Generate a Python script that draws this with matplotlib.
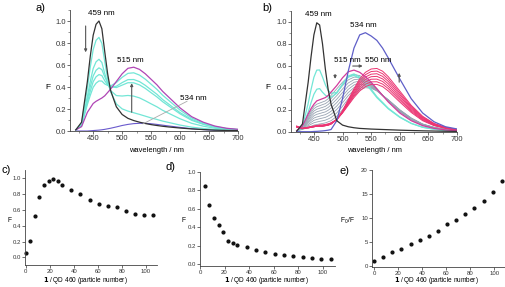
import numpy as np
import matplotlib
matplotlib.use('Agg')
import matplotlib.pyplot as plt
from matplotlib.ticker import MultipleLocator

plt.rcParams['font.family'] = ['Liberation Sans', 'DejaVu Sans']

# wavelength grid (nm) shared by every spectrum
wl = [420, 430, 440, 445, 450, 455, 460, 465, 470, 475, 480, 490, 500, 510, 520,
      530, 540, 550, 560, 570, 580, 600, 620, 640, 660, 680, 700]

# ---- panel a) spectra
a_black = [0.01, 0.08, 0.45, 0.68, 0.87, 0.97, 1.00, 0.93, 0.72, 0.52, 0.37, 0.22, 0.15, 0.115, 0.095,
           0.08, 0.068, 0.058, 0.05, 0.043, 0.037, 0.027, 0.019, 0.013, 0.008, 0.005, 0.003]
a_cyan = [
    [0.01, 0.071, 0.389, 0.581, 0.74, 0.825, 0.851, 0.797, 0.63, 0.474, 0.357, 0.247, 0.201, 0.181, 0.166,
     0.151, 0.135, 0.119, 0.105, 0.09, 0.078, 0.054, 0.035, 0.023, 0.014, 0.008, 0.005],
    [0.01, 0.06, 0.313, 0.451, 0.568, 0.629, 0.652, 0.623, 0.522, 0.432, 0.368, 0.322, 0.318, 0.323, 0.317,
     0.301, 0.275, 0.247, 0.22, 0.188, 0.162, 0.111, 0.07, 0.044, 0.025, 0.014, 0.009],
    [0.011, 0.058, 0.287, 0.402, 0.50, 0.552, 0.574, 0.558, 0.493, 0.439, 0.403, 0.395, 0.417, 0.439, 0.438,
     0.419, 0.387, 0.348, 0.31, 0.266, 0.229, 0.156, 0.097, 0.06, 0.034, 0.019, 0.011],
    [0.011, 0.054, 0.263, 0.361, 0.448, 0.493, 0.513, 0.504, 0.457, 0.42, 0.398, 0.407, 0.44, 0.467, 0.468,
     0.449, 0.415, 0.374, 0.334, 0.286, 0.246, 0.167, 0.105, 0.065, 0.036, 0.02, 0.012],
    [0.011, 0.051, 0.241, 0.324, 0.397, 0.435, 0.455, 0.454, 0.428, 0.414, 0.409, 0.441, 0.488, 0.524, 0.529,
     0.508, 0.471, 0.425, 0.379, 0.325, 0.28, 0.19, 0.118, 0.073, 0.041, 0.023, 0.014],
]
a_magenta = [0.01, 0.04, 0.17, 0.21, 0.25, 0.27, 0.285, 0.30, 0.32, 0.35, 0.38, 0.45, 0.52, 0.57, 0.58,
             0.56, 0.52, 0.47, 0.42, 0.36, 0.31, 0.21, 0.13, 0.08, 0.045, 0.025, 0.015]
a_purple = [0.0, 0.0, 0.0, 0.002, 0.004, 0.006, 0.008, 0.011, 0.015, 0.02, 0.025, 0.037, 0.05, 0.06, 0.067,
            0.07, 0.07, 0.066, 0.06, 0.053, 0.046, 0.033, 0.021, 0.013, 0.007, 0.004, 0.002]

# ---- panel b) spectra
b_black = [0.005, 0.07, 0.45, 0.68, 0.88, 0.99, 0.97, 0.80, 0.57, 0.38, 0.25, 0.10, 0.06, 0.045, 0.036,
           0.03, 0.027, 0.024, 0.022, 0.02, 0.018, 0.014, 0.011, 0.008, 0.006, 0.004, 0.003]
b_cyan = [
    [0.01, 0.047, 0.257, 0.383, 0.495, 0.56, 0.561, 0.498, 0.427, 0.375, 0.35, 0.356, 0.428, 0.496, 0.512,
     0.484, 0.437, 0.376, 0.31, 0.259, 0.208, 0.131, 0.075, 0.04, 0.023, 0.012, 0.006],
    [0.005, 0.036, 0.178, 0.263, 0.34, 0.386, 0.392, 0.359, 0.332, 0.314, 0.314, 0.35, 0.433, 0.507, 0.525,
     0.497, 0.45, 0.387, 0.318, 0.266, 0.213, 0.134, 0.076, 0.041, 0.023, 0.011, 0.006],
]
b_magenta = [0.01, 0.05, 0.16, 0.21, 0.25, 0.28, 0.29, 0.30, 0.31, 0.33, 0.36, 0.42, 0.49, 0.545, 0.56,
             0.54, 0.50, 0.45, 0.39, 0.33, 0.27, 0.17, 0.10, 0.055, 0.03, 0.016, 0.008]
b_gray = [
    [0.01, 0.04, 0.14, 0.19, 0.23, 0.25, 0.26, 0.27, 0.28, 0.30, 0.33, 0.39, 0.45, 0.50, 0.52,
     0.51, 0.48, 0.44, 0.39, 0.33, 0.28, 0.18, 0.11, 0.06, 0.033, 0.018, 0.01],
    [0.01, 0.038, 0.128, 0.173, 0.209, 0.227, 0.236, 0.246, 0.255, 0.274, 0.301, 0.359, 0.419, 0.471, 0.496,
     0.494, 0.47, 0.434, 0.388, 0.33, 0.281, 0.183, 0.112, 0.061, 0.034, 0.018, 0.01],
    [0.01, 0.035, 0.115, 0.155, 0.188, 0.204, 0.213, 0.221, 0.23, 0.248, 0.273, 0.328, 0.388, 0.443, 0.473,
     0.478, 0.46, 0.429, 0.385, 0.33, 0.283, 0.185, 0.114, 0.063, 0.035, 0.019, 0.01],
    [0.01, 0.033, 0.103, 0.138, 0.166, 0.181, 0.189, 0.197, 0.205, 0.221, 0.244, 0.296, 0.356, 0.414, 0.449,
     0.461, 0.45, 0.423, 0.383, 0.33, 0.284, 0.188, 0.116, 0.064, 0.036, 0.019, 0.01],
    [0.01, 0.03, 0.09, 0.12, 0.145, 0.158, 0.165, 0.173, 0.18, 0.195, 0.215, 0.265, 0.325, 0.385, 0.425,
     0.445, 0.44, 0.418, 0.38, 0.33, 0.285, 0.19, 0.118, 0.065, 0.037, 0.019, 0.01],
    [0.01, 0.028, 0.078, 0.103, 0.124, 0.134, 0.141, 0.148, 0.155, 0.169, 0.186, 0.234, 0.294, 0.356, 0.401,
     0.429, 0.43, 0.412, 0.378, 0.33, 0.286, 0.193, 0.119, 0.066, 0.037, 0.019, 0.01],
    [0.01, 0.025, 0.065, 0.085, 0.103, 0.111, 0.118, 0.124, 0.13, 0.143, 0.158, 0.203, 0.263, 0.328, 0.378,
     0.413, 0.42, 0.406, 0.375, 0.33, 0.288, 0.195, 0.121, 0.068, 0.038, 0.02, 0.01],
    [0.01, 0.023, 0.053, 0.068, 0.081, 0.088, 0.094, 0.099, 0.105, 0.116, 0.129, 0.171, 0.231, 0.299, 0.354,
     0.396, 0.41, 0.401, 0.373, 0.33, 0.289, 0.198, 0.123, 0.069, 0.039, 0.02, 0.01],
    [0.01, 0.02, 0.04, 0.05, 0.06, 0.065, 0.07, 0.075, 0.08, 0.09, 0.10, 0.14, 0.20, 0.27, 0.33,
     0.38, 0.40, 0.395, 0.37, 0.33, 0.29, 0.20, 0.125, 0.07, 0.04, 0.02, 0.01],
]
b_red = [
    [0.04, 0.03, 0.04, 0.045, 0.05, 0.055, 0.06, 0.06, 0.065, 0.07, 0.08, 0.11, 0.17, 0.24, 0.31,
     0.37, 0.41, 0.43, 0.43, 0.41, 0.37, 0.27, 0.175, 0.10, 0.055, 0.03, 0.015],
    [0.04, 0.03, 0.04, 0.045, 0.05, 0.055, 0.06, 0.06, 0.065, 0.07, 0.08, 0.11, 0.173, 0.248, 0.323,
     0.388, 0.432, 0.453, 0.454, 0.433, 0.392, 0.287, 0.186, 0.107, 0.058, 0.032, 0.016],
    [0.045, 0.03, 0.04, 0.045, 0.05, 0.055, 0.055, 0.055, 0.06, 0.065, 0.075, 0.11, 0.177, 0.257, 0.337,
     0.407, 0.453, 0.477, 0.478, 0.457, 0.413, 0.303, 0.197, 0.113, 0.062, 0.033, 0.017],
    [0.045, 0.03, 0.035, 0.04, 0.045, 0.05, 0.055, 0.055, 0.06, 0.065, 0.075, 0.11, 0.18, 0.265, 0.35,
     0.425, 0.475, 0.50, 0.503, 0.48, 0.435, 0.32, 0.208, 0.12, 0.065, 0.035, 0.018],
    [0.05, 0.03, 0.035, 0.04, 0.045, 0.05, 0.05, 0.05, 0.055, 0.06, 0.07, 0.11, 0.183, 0.273, 0.363,
     0.443, 0.497, 0.523, 0.527, 0.503, 0.457, 0.337, 0.218, 0.127, 0.068, 0.037, 0.018],
    [0.05, 0.03, 0.035, 0.04, 0.045, 0.05, 0.05, 0.05, 0.055, 0.06, 0.07, 0.11, 0.187, 0.282, 0.377,
     0.462, 0.518, 0.547, 0.551, 0.527, 0.478, 0.353, 0.229, 0.133, 0.072, 0.038, 0.019],
    [0.05, 0.03, 0.035, 0.04, 0.045, 0.05, 0.05, 0.05, 0.055, 0.06, 0.07, 0.11, 0.19, 0.29, 0.39,
     0.48, 0.54, 0.57, 0.575, 0.55, 0.50, 0.37, 0.24, 0.14, 0.075, 0.04, 0.02],
]
b_purple = [0.0, 0.0, 0.0, 0.0, 0.002, 0.003, 0.005, 0.007, 0.01, 0.014, 0.02, 0.10, 0.30, 0.55, 0.76,
            0.88, 0.90, 0.87, 0.83, 0.76, 0.67, 0.48, 0.30, 0.17, 0.09, 0.045, 0.025]

# ---- panels c) d) e): titration points
c_x = [0, 3.8, 7.6, 11.4, 15.2, 19, 22.8, 26.6, 30.4, 38, 45.6, 53.2, 60.8, 68.4, 76, 83.6, 91.2, 98.8, 106.4]
c_y = [0.051, 0.207, 0.523, 0.768, 0.916, 0.966, 0.992, 0.966, 0.916, 0.852, 0.797, 0.722, 0.679, 0.646,
       0.633, 0.586, 0.549, 0.540, 0.536]
d_x = [3.8, 7.6, 11.4, 15.2, 19, 22.8, 26.6, 30.4, 38, 45.6, 53.2, 60.8, 68.4, 76, 83.6, 91.2, 98.8, 106.4]
d_y = [0.852, 0.639, 0.498, 0.422, 0.354, 0.253, 0.227, 0.209, 0.184, 0.159, 0.130, 0.112, 0.097, 0.087,
       0.076, 0.069, 0.061, 0.054]
e_x = [0, 7.6, 15.2, 22.8, 30.4, 38, 45.6, 53.2, 60.8, 68.4, 76, 83.6, 91.2, 98.8, 106.4]
e_y = [1.0, 1.8, 2.8, 3.5, 4.5, 5.35, 6.2, 7.3, 8.75, 9.5, 10.8, 12.1, 13.6, 15.5, 17.7]

W, H = 505, 287
fig = plt.figure(figsize=(W / 100, H / 100), dpi=100)


def box(l, t, r, b):
    # pixel box -> figure fraction
    return [l / W, 1 - b / H, (r - l) / W, (b - t) / H]


def style(ax, size):
    for s in ['top', 'right']:
        ax.spines[s].set_visible(False)
    for s in ['left', 'bottom']:
        ax.spines[s].set_linewidth(0.6)
        ax.spines[s].set_color('#444444')
    ax.tick_params(labelsize=size, length=2, width=0.5, pad=1, colors='#333333')
    ax.tick_params(which='minor', length=1.2, width=0.4, colors='#444444')


# ---------------- a)
ax = fig.add_axes(box(70, 10, 238, 131))
ax.plot(wl, a_purple, color='#6a5acd', lw=0.8)
for y in a_cyan:
    ax.plot(wl, y, color='#72e6d6', lw=0.9)
ax.plot(wl, a_magenta, color='#b045b5', lw=0.9)
ax.plot(wl, a_black, color='#333333', lw=0.9)
ax.set_xlim(410, 700)
ax.set_ylim(0, 1.1)
ax.set_xticks(range(450, 701, 50))
ax.set_yticks(np.arange(0, 1.01, 0.2))
ax.set_yticklabels(['0.0', '0.2', '0.4', '0.6', '0.8', '1.0'])
ax.xaxis.set_minor_locator(MultipleLocator(25))
ax.yaxis.set_minor_locator(MultipleLocator(0.1))
style(ax, 5.5)
ax.text(464, 1.07, '459 nm', fontsize=5.8, ha='center', va='center')
ax.text(514, 0.645, '515 nm', fontsize=5.8, ha='center', va='center')
ax.text(622, 0.30, '534 nm', fontsize=5.8, ha='center', va='center')
ax.plot([612, 536], [0.27, 0.065], color='#aaaaaa', lw=0.6)
ax.annotate('', xy=(437, 0.69), xytext=(437, 0.98),
            arrowprops=dict(arrowstyle='-|>', color='#555555', lw=0.8, mutation_scale=4))
ax.annotate('', xy=(516.5, 0.46), xytext=(516.5, 0.145),
            arrowprops=dict(arrowstyle='-|>', color='#555555', lw=0.8, mutation_scale=4))

# ---------------- b)
ax = fig.add_axes(box(291, 10.7, 457, 131.7))
for y in b_gray:
    ax.plot(wl, y, color='#98a3b2', lw=0.6)
for y in b_cyan:
    ax.plot(wl, y, color='#72e6d6', lw=0.9)
for y in b_red:
    ax.plot(wl, y, color='#ec3472', lw=0.7)
ax.plot(wl, b_magenta, color='#d23a9c', lw=0.9)
ax.plot(wl, b_purple, color='#5f5fc8', lw=0.9)
ax.plot(wl, b_black, color='#333333', lw=0.9)
ax.set_xlim(410, 700)
ax.set_ylim(0, 1.1)
ax.set_xticks(range(450, 701, 50))
ax.set_yticks(np.arange(0, 1.01, 0.2))
ax.set_yticklabels(['0.0', '0.2', '0.4', '0.6', '0.8', '1.0'])
ax.xaxis.set_minor_locator(MultipleLocator(25))
ax.yaxis.set_minor_locator(MultipleLocator(0.1))
style(ax, 5.5)
ax.text(457.7, 1.07, '459 nm', fontsize=5.8, ha='center', va='center')
ax.text(537, 0.964, '534 nm', fontsize=5.8, ha='center', va='center')
ax.text(507.6, 0.643, '515 nm', fontsize=5.8, ha='center', va='center')
ax.text(563, 0.643, '550 nm', fontsize=5.8, ha='center', va='center')
ax.annotate('', xy=(487, 0.455), xytext=(487, 0.545),
            arrowprops=dict(arrowstyle='-|>', color='#555555', lw=0.8, mutation_scale=4))
ax.annotate('', xy=(540, 0.597), xytext=(513, 0.597),
            arrowprops=dict(arrowstyle='-|>', color='#555555', lw=0.8, mutation_scale=4))
ax.annotate('', xy=(599, 0.56), xytext=(599, 0.425),
            arrowprops=dict(arrowstyle='-|>', color='#555555', lw=0.8, mutation_scale=4))

# ---------------- c)
ax = fig.add_axes(box(25, 170.4, 157, 265.2))
ax.plot(c_x, c_y, 'o', color='#111111', ms=2.0, clip_on=False)
ax.set_xlim(-0.6, 109.4)
ax.set_ylim(-0.1, 1.1)
ax.set_xticks(range(0, 101, 20))
ax.set_yticks(np.arange(0, 1.01, 0.2))
ax.set_yticklabels(['0.0', '0.2', '0.4', '0.6', '0.8', '1.0'])
style(ax, 4.3)

# ---------------- d)
ax = fig.add_axes(box(200, 172, 335, 266))
ax.plot(d_x, d_y, 'o', color='#111111', ms=2.0, clip_on=False)
ax.set_xlim(0, 110)
ax.set_ylim(-0.02, 1.0)
ax.set_xticks(range(0, 101, 20))
ax.set_yticks(np.arange(0, 1.01, 0.2))
ax.set_yticklabels(['0.0', '0.2', '0.4', '0.6', '0.8', '1.0'])
style(ax, 4.3)

# ---------------- e)
ax = fig.add_axes(box(372, 170, 505, 267.3))
ax.plot(e_x, e_y, 'o', color='#111111', ms=2.0, clip_on=False)
ax.set_xlim(-1.7, 109)
ax.set_ylim(-0.3, 20)
ax.set_xticks(range(0, 101, 20))
ax.set_yticks(range(0, 21, 5))
style(ax, 4.3)

# figure level labels
def ftext(x, y, s, **kw):
    fig.text(x / W, 1 - y / H, s, ha='center', va='center', **kw)


ftext(40, 8, 'a)', fontsize=8)
ftext(267, 8, 'b)', fontsize=8)
ftext(6, 170, 'c)', fontsize=8)
ftext(170, 167, 'd)', fontsize=8)
ftext(345, 171, 'e)', fontsize=8)
ftext(48, 88, 'F', fontsize=6)
ftext(268, 88, 'F', fontsize=6)
ftext(156, 150, 'wavelength / nm', fontsize=5.4)
ftext(374, 151, 'wavelength / nm', fontsize=5.4)
ftext(9, 221, 'F', fontsize=4.8)
ftext(184, 221, 'F', fontsize=4.8)
ftext(347, 221, r'F$_0$/F', fontsize=4.8)
xl = r'$\mathbf{1}$ / QD 460 (particle number)'
ftext(85, 281, xl, fontsize=4.7)
ftext(266, 281, xl, fontsize=4.7)
ftext(436, 281, xl, fontsize=4.7)

fig.savefig('out.png', dpi=100)
